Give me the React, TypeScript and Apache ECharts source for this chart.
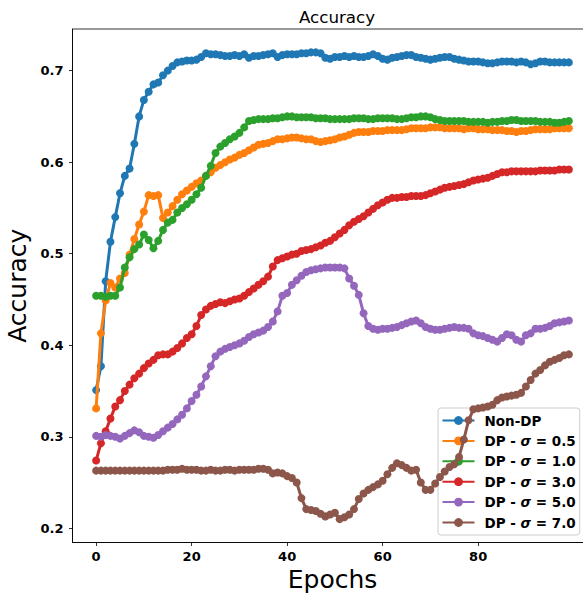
import React, { useEffect, useRef } from "react";
import * as echarts from "echarts";

const seriesNames = ["Non-DP", "DP - σ = 0.5", "DP - σ = 1.0", "DP - σ = 3.0", "DP - σ = 5.0", "DP - σ = 7.0"];
const colors = ["#1f77b4", "#ff7f0e", "#2ca02c", "#d62728", "#9467bd", "#8c564b"];
const xTicks = [0, 20, 40, 60, 80];
const yTicks = [0.2, 0.3, 0.4, 0.5, 0.6, 0.7];

const nonDP = [
  0.351, 0.377, 0.470, 0.513, 0.540, 0.566, 0.585, 0.593, 0.620, 0.650,
  0.668, 0.677, 0.685, 0.687, 0.695, 0.700, 0.705, 0.709, 0.710, 0.711,
  0.711, 0.712, 0.715, 0.719, 0.718, 0.718, 0.717, 0.716, 0.716, 0.717,
  0.716, 0.718, 0.714, 0.716, 0.716, 0.717, 0.718, 0.719, 0.715, 0.717,
  0.718, 0.718, 0.718, 0.719, 0.719, 0.720, 0.720, 0.719, 0.714, 0.713,
  0.715, 0.715, 0.716, 0.715, 0.716, 0.715, 0.715, 0.716, 0.718, 0.716,
  0.713, 0.712, 0.714, 0.715, 0.716, 0.717, 0.717, 0.715, 0.714, 0.713,
  0.712, 0.713, 0.714, 0.715, 0.715, 0.713, 0.712, 0.711, 0.710, 0.710,
  0.710, 0.709, 0.708, 0.708, 0.709, 0.710, 0.710, 0.710, 0.709, 0.710,
  0.709, 0.707, 0.708, 0.710, 0.710, 0.709, 0.709, 0.709, 0.709, 0.709,
];
const dp05 = [
  0.331, 0.413, 0.449, 0.468, 0.463, 0.473, 0.479, 0.499, 0.516, 0.532,
  0.546, 0.564, 0.563, 0.564, 0.539, 0.545, 0.552, 0.559, 0.565, 0.569,
  0.573, 0.577, 0.580, 0.585, 0.589, 0.594, 0.597, 0.600, 0.603, 0.605,
  0.608, 0.610, 0.613, 0.616, 0.619, 0.620, 0.621, 0.623, 0.625, 0.625,
  0.626, 0.627, 0.627, 0.626, 0.625, 0.625, 0.623, 0.622, 0.623, 0.624,
  0.625, 0.627, 0.628, 0.630, 0.632, 0.633, 0.633, 0.633, 0.634, 0.634,
  0.634, 0.635, 0.635, 0.635, 0.635, 0.636, 0.637, 0.637, 0.637, 0.637,
  0.638, 0.638, 0.638, 0.637, 0.637, 0.637, 0.637, 0.636, 0.637, 0.637,
  0.636, 0.636, 0.636, 0.635, 0.635, 0.635, 0.634, 0.634, 0.633, 0.634,
  0.634, 0.635, 0.636, 0.636, 0.636, 0.636, 0.637, 0.637, 0.637, 0.637,
];
const dp10 = [
  0.454, 0.454, 0.453, 0.454, 0.454, 0.463, 0.485, 0.496, 0.505, 0.510,
  0.521, 0.515, 0.506, 0.514, 0.526, 0.534, 0.537, 0.545, 0.550, 0.554,
  0.559, 0.565, 0.572, 0.585, 0.596, 0.610, 0.617, 0.621, 0.625, 0.628,
  0.632, 0.638, 0.645, 0.646, 0.647, 0.647, 0.647, 0.648, 0.648, 0.649,
  0.650, 0.650, 0.649, 0.649, 0.649, 0.649, 0.648, 0.648, 0.648, 0.647,
  0.647, 0.647, 0.647, 0.647, 0.648, 0.648, 0.648, 0.647, 0.647, 0.648,
  0.648, 0.648, 0.648, 0.647, 0.647, 0.648, 0.649, 0.649, 0.650, 0.650,
  0.649, 0.647, 0.646, 0.645, 0.645, 0.645, 0.645, 0.645, 0.644, 0.644,
  0.644, 0.644, 0.643, 0.644, 0.644, 0.645, 0.645, 0.646, 0.646, 0.645,
  0.645, 0.645, 0.645, 0.644, 0.644, 0.644, 0.643, 0.643, 0.644, 0.645,
];
const dp30 = [
  0.274, 0.293, 0.306, 0.320, 0.333, 0.340, 0.350, 0.357, 0.364, 0.369,
  0.375, 0.380, 0.384, 0.389, 0.390, 0.390, 0.393, 0.397, 0.402, 0.408,
  0.412, 0.421, 0.433, 0.439, 0.443, 0.445, 0.447, 0.446, 0.448, 0.450,
  0.451, 0.454, 0.458, 0.462, 0.466, 0.470, 0.475, 0.486, 0.493, 0.495,
  0.497, 0.499, 0.500, 0.503, 0.504, 0.505, 0.507, 0.509, 0.512, 0.514,
  0.518, 0.522, 0.526, 0.531, 0.535, 0.538, 0.541, 0.545, 0.549, 0.553,
  0.556, 0.559, 0.561, 0.561, 0.562, 0.562, 0.563, 0.563, 0.563, 0.564,
  0.566, 0.568, 0.570, 0.572, 0.573, 0.574, 0.575, 0.576, 0.578, 0.580,
  0.581, 0.582, 0.583, 0.585, 0.587, 0.589, 0.589, 0.590, 0.590, 0.590,
  0.590, 0.590, 0.590, 0.591, 0.591, 0.591, 0.591, 0.592, 0.592, 0.592,
];
const dp50 = [
  0.301, 0.300, 0.302, 0.301, 0.300, 0.298, 0.301, 0.304, 0.307, 0.305,
  0.301, 0.300, 0.299, 0.302, 0.306, 0.310, 0.314, 0.319, 0.324, 0.331,
  0.339, 0.346, 0.355, 0.366, 0.377, 0.388, 0.393, 0.396, 0.398, 0.400,
  0.402, 0.405, 0.409, 0.412, 0.414, 0.416, 0.420, 0.426, 0.437, 0.454,
  0.457, 0.466, 0.471, 0.476, 0.480, 0.482, 0.483, 0.484, 0.485, 0.485,
  0.485, 0.485, 0.484, 0.473, 0.465, 0.455, 0.435, 0.421, 0.418, 0.417,
  0.418, 0.418, 0.419, 0.420, 0.422, 0.424, 0.426, 0.427, 0.424, 0.420,
  0.418, 0.417, 0.417, 0.418, 0.419, 0.420, 0.419, 0.419, 0.418, 0.413,
  0.411, 0.410, 0.408, 0.406, 0.404, 0.408, 0.412, 0.411, 0.406, 0.404,
  0.411, 0.413, 0.418, 0.418, 0.419, 0.421, 0.424, 0.425, 0.426, 0.427,
];
const dp70 = [
  0.263, 0.263, 0.263, 0.263, 0.263, 0.263, 0.263, 0.263, 0.263, 0.263,
  0.263, 0.263, 0.263, 0.263, 0.263, 0.264, 0.264, 0.264, 0.265, 0.264,
  0.264, 0.264, 0.263, 0.263, 0.264, 0.263, 0.263, 0.264, 0.264, 0.263,
  0.264, 0.264, 0.264, 0.264, 0.265, 0.265, 0.264, 0.260, 0.261, 0.260,
  0.257, 0.255, 0.250, 0.233, 0.221, 0.220, 0.219, 0.216, 0.213, 0.215,
  0.217, 0.210, 0.212, 0.215, 0.221, 0.232, 0.238, 0.242, 0.245, 0.248,
  0.252, 0.259, 0.266, 0.271, 0.269, 0.266, 0.263, 0.264, 0.250, 0.242,
  0.242, 0.249, 0.256, 0.262, 0.267, 0.270, 0.278, 0.297, 0.318, 0.330,
  0.331, 0.332, 0.333, 0.335, 0.340, 0.343, 0.344, 0.345, 0.346, 0.348,
  0.355, 0.362, 0.369, 0.373, 0.378, 0.382, 0.384, 0.386, 0.389, 0.390,
];
const allSeries = [nonDP, dp05, dp10, dp30, dp50, dp70];

const FONT = "DejaVu Sans";

export default function App() {
  const ref = useRef<HTMLDivElement>(null);
  useEffect(() => {
    document.body.style.margin = "0";
    if (!ref.current) return;
    const chart = echarts.init(ref.current, undefined, { renderer: "svg" });
    const option: any = {
      animation: false,
      backgroundColor: "#ffffff",
      title: {
        text: "Accuracy",
        left: 332,
        top: 3,
        textAlign: "center",
        textStyle: { fontFamily: FONT, fontSize: 16.7, fontWeight: "normal", color: "#000" },
      },
      grid: {
        left: 72.5,
        top: 29,
        width: 520,
        height: 513.5,
        show: true,
        borderColor: "#000",
        borderWidth: 0.8,
        backgroundColor: "transparent",
        containLabel: false,
        outerBoundsMode: "none",
      },
      legend: {
        left: 438,
        top: 408,
        orient: "vertical",
        itemWidth: 32,
        itemHeight: 11,
        itemGap: 4.4,
        padding: [4.5, 4, 4.5, 3.5],
        backgroundColor: "rgba(255,255,255,0.8)",
        borderColor: "#cccccc",
        borderWidth: 1,
        borderRadius: 3,
        selectedMode: false,
        data: seriesNames,
        formatter: (name: string) => name.replace("σ", "{i|σ}"),
        textStyle: {
          fontFamily: FONT,
          fontSize: 13.5,
          fontWeight: "bold",
          color: "#000",
          lineHeight: 16,
          padding: [0, 0, 0, 5],
          rich: {
            i: { fontFamily: FONT, fontSize: 13.5, fontWeight: "bold", fontStyle: "italic", color: "#000", lineHeight: 16 },
          },
        },
      },
      xAxis: {
        type: "value",
        min: -4.95,
        max: 103.95,
        name: "Epochs",
        nameLocation: "middle",
        nameGap: 23,
        nameTextStyle: { fontFamily: FONT, fontSize: 25, color: "#000" },
        axisLine: { show: true, onZero: false, lineStyle: { color: "#000", width: 0.8 } },
        axisTick: { show: true, length: 3.5, customValues: xTicks, lineStyle: { color: "#000", width: 0.8 } },
        axisLabel: {
          customValues: xTicks,
          margin: 7,
          fontFamily: FONT,
          fontSize: 13,
          fontWeight: "bold",
          color: "#000",
          formatter: (v: number) => String(v),
        },
        splitLine: { show: false },
      },
      yAxis: {
        type: "value",
        min: 0.1845,
        max: 0.7455,
        name: "Accuracy",
        nameLocation: "middle",
        nameGap: 31,
        nameRotate: 90,
        nameTextStyle: { fontFamily: FONT, fontSize: 25, color: "#000" },
        axisLine: { show: true, onZero: false, lineStyle: { color: "#000", width: 0.8 } },
        axisTick: { show: true, length: 3.5, customValues: yTicks, lineStyle: { color: "#000", width: 0.8 } },
        axisLabel: {
          customValues: yTicks,
          margin: 9,
          fontFamily: FONT,
          fontSize: 13,
          fontWeight: "bold",
          color: "#000",
          formatter: (v: number) => v.toFixed(1),
        },
        splitLine: { show: false },
      },
      series: allSeries.map((vals, si) => ({
        name: seriesNames[si],
        type: "line",
        data: vals.map((v, i) => [i, v]),
        symbol: "circle",
        symbolSize: 8,
        showSymbol: true,
        showAllSymbol: true,
        clip: true,
        silent: true,
        color: colors[si],
        lineStyle: { color: colors[si], width: 3 },
        itemStyle: { color: colors[si], borderWidth: 0 },
        emphasis: { disabled: true },
        z: 2 + si,
      })),
    };
    chart.setOption(option);
    return () => chart.dispose();
  }, []);
  return <div ref={ref} style={{ width: 583, height: 597 }} />;
}
